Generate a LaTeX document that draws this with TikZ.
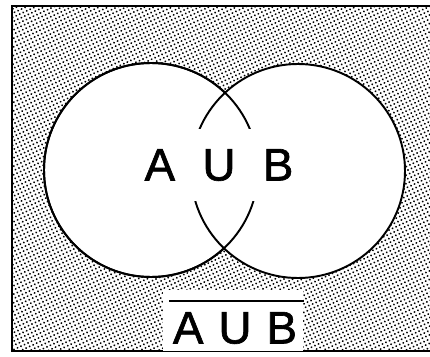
\documentclass[tikz,border=0pt]{standalone}
\usepackage{fontspec}
\setmainfont{Liberation Sans}
\newfontfamily\setfont[FakeBold=1.4]{Liberation Sans}
\usetikzlibrary{patterns.meta}

\begin{document}
\begin{tikzpicture}[x=0.02cm,y=0.02cm,
    setname/.style={circle,draw,fill=white,line width=1.1pt,minimum size=214*0.02cm,inner sep=0pt},
    bigtext/.style={font=\setfont\fontsize{26}{30}\selectfont}]
    \useasboundingbox (0,0) rectangle (430,356);

    % Universe, stippled
    \fill[pattern={Dots[distance=2.2pt,radius=0.6pt,angle=25]}] (12,5) rectangle (430,350);
    \draw[line width=1.2pt] (430,350) -- (12,350) -- (12,5) -- (430,5);

    % Circles
    \node[setname] (A) at (151,186) {};
    \node[setname] (B) at (298,185) {};
    \draw[line width=1.1pt] (A.center) circle[radius=107];

    % Labels
    \node[bigtext,fill=white,minimum height=41pt,inner sep=1pt] (union) at (219,191) {A\hspace{.6em}U\hspace{.6em}B};
    \fill[white] (163,5) rectangle (303,66);
    \node[bigtext,inner sep=0pt] (compl) at (235,28) {A\hspace{.33em}U\hspace{.33em}B};
    \draw[line width=1.2pt] ([yshift=6pt,xshift=-2pt]compl.north west) -- ([yshift=6pt,xshift=4pt]compl.north east);
\end{tikzpicture}
\end{document}
